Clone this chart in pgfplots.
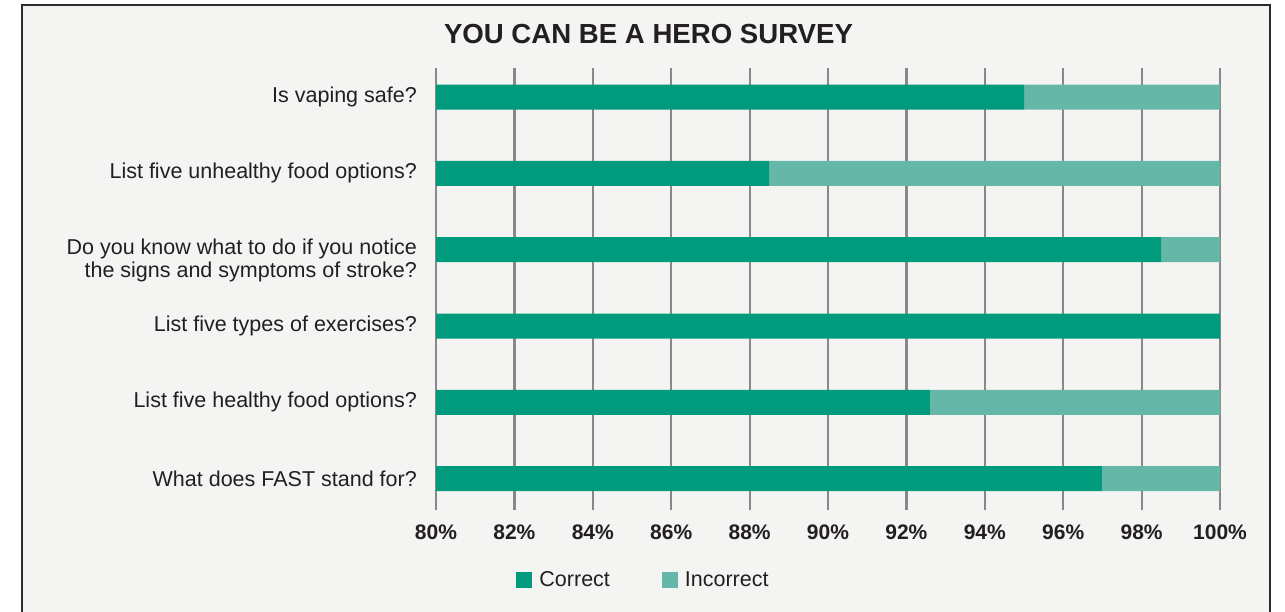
\documentclass[border=0pt]{standalone}
\usepackage{pgfplots}
\pgfplotsset{compat=1.18}
\usepackage{pgfplotstable}
\usepackage{fontspec}
\setmainfont{Liberation Sans}
\definecolor{cor}{RGB}{0,154,124}
\definecolor{inc}{RGB}{101,184,168}
\definecolor{bg}{RGB}{244,244,242}
\definecolor{frame}{RGB}{45,45,45}
\definecolor{gridc}{RGB}{136,136,136}
\definecolor{txt}{RGB}{35,31,32}
\pgfplotstableread{
y correct incorrect
0 95   5
1 88.5 11.5
2 98.5 1.5
3 100  0
4 92.6 7.4
5 97   3
}\datatable
\begin{document}
\begin{tikzpicture}[x=1pt,y=1pt]
\useasboundingbox (0,0) rectangle (1285,-612);
\begin{scope}
\clip (0,0) rectangle (1285,-612);
\fill[white] (0,0) rectangle (1285,-612);
\draw[line width=2.5pt, draw=frame, fill=bg] (22,-5) rectangle (1270,-640);
\end{scope}
\node[font=\fontsize{27.6pt}{30pt}\selectfont\bfseries, text=txt] at (648.5,-34) {YOU CAN BE A HERO SURVEY};
\begin{axis}[
  at={(436pt,-510pt)}, anchor=south west,
  scale only axis, width=784pt, height=442pt,
  xbar stacked, bar width=25pt,
  xmin=80, xmax=100,
  ymin=-0.38, ymax=5.41, y dir=reverse,
  axis line style={draw=none},
  major tick length=0pt,
  xtick={80,82,...,100},
  xticklabels={80\%,82\%,84\%,86\%,88\%,90\%,92\%,94\%,96\%,98\%,100\%},
  xticklabel style={font=\fontsize{21pt}{23pt}\selectfont\bfseries, text=txt, inner sep=0pt, yshift=-15pt},
  ytick={0,1,3,4,5},
  yticklabels={Is vaping safe?, List five unhealthy food options?, List five types of exercises?, List five healthy food options?, What does FAST stand for?},
  extra y ticks={2},
  extra y tick labels={{Do you know what to do if you notice\\the signs and symptoms of stroke?}},
  extra y tick style={yticklabel style={yshift=-11pt}},
  yticklabel style={font=\fontsize{21.5pt}{23pt}\selectfont, text=txt, inner sep=0pt, xshift=-19pt, align=right},
  xmajorgrids, major grid style={draw=gridc, line width=2.2pt},
  legend image code/.code={\fill[#1,draw=none] (0pt,-8pt) rectangle (16pt,8pt);},
  legend style={at={(0.2647,-0.158)}, anchor=center, draw=none, fill=none,
    font=\fontsize{21.5pt}{23pt}\selectfont, text=txt,
    legend columns=2,
    /tikz/every odd column/.append style={column sep=5pt},
    /tikz/every even column/.append style={column sep=50pt}},
  legend cell align=left,
]
\addplot[fill=cor, draw=none] table[x=correct, y=y] {\datatable};
\addlegendentry{Correct}
\addplot[fill=inc, draw=none] table[x=incorrect, y=y] {\datatable};
\addlegendentry{Incorrect}
\end{axis}
\end{tikzpicture}
\end{document}
